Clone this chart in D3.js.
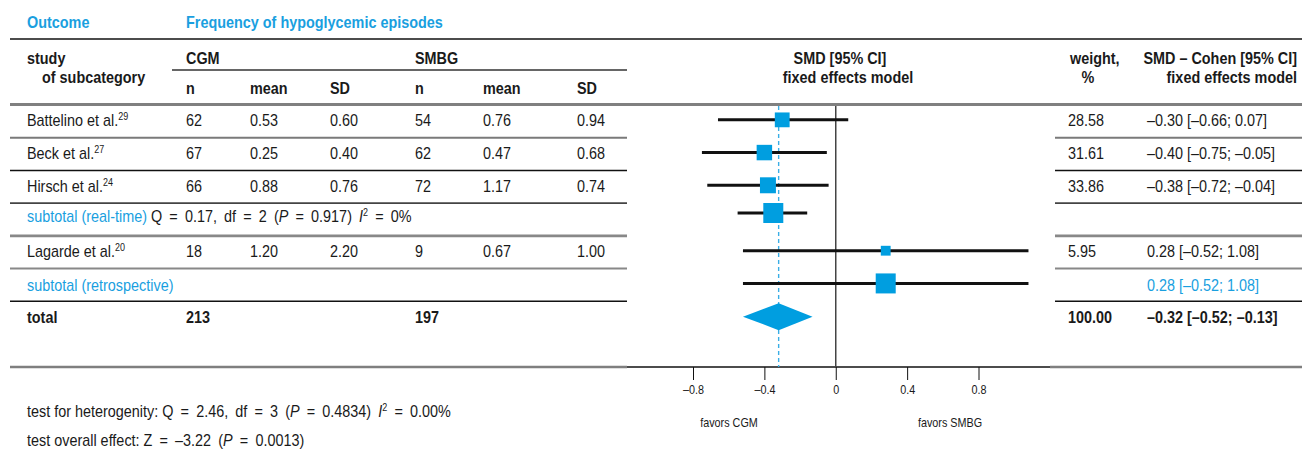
<!DOCTYPE html>
<html>
<head>
<meta charset="utf-8">
<script src="https://cdn.jsdelivr.net/npm/d3@7"></script>
<style>
    body { margin: 0; background: #fff; }
    svg text { font-family: "Liberation Sans", Arial, sans-serif; font-size: 16px; fill: #1a1a1a; }
    svg text.b { font-weight: bold; }
    svg .blue { fill: #1a9fdf; }
    svg .math { word-spacing: 3.5px; }
    .tick text { font-size: 12px; }
</style>
</head>
<body>
<svg width="1302" height="451"></svg>
<script>
// study rows
var studies = ["Battelino et al.", "Beck et al.", "Hirsch et al.", "Lagarde et al."];
var refs = ["29", "27", "24", "20"];
var cgmN = [62, 67, 66, 18];
var cgmMean = ["0.53", "0.25", "0.88", "1.20"];
var cgmSD = ["0.60", "0.40", "0.76", "2.20"];
var smbgN = [54, 62, 72, 9];
var smbgMean = ["0.76", "0.47", "1.17", "0.67"];
var smbgSD = ["0.94", "0.68", "0.74", "1.00"];
var weights = [28.58, 31.61, 33.86, 5.95];
var smd = [-0.30, -0.40, -0.38, 0.28];
var smdLo = [-0.66, -0.75, -0.72, -0.52];
var smdHi = [0.07, -0.05, -0.04, 1.08];

// subtotals and total
var subRealTime = [-0.35, -0.55, -0.16];
var subRetro = [0.28, -0.52, 1.08];
var total = [-0.32, -0.52, -0.13];
var totalN = [213, 197];
var totalWeight = "100.00";

var ticks = [-0.8, -0.4, 0, 0.4, 0.8];

var svg = d3.select("svg");
var blue = "#009ee0";

function dash(v, digits) {
    return d3.format("." + digits + "f")(v).replace("−", "–").replace("-", "–");
}
function ciText(a) {
    return dash(a[0], 2) + " [" + dash(a[1], 2) + "; " + dash(a[2], 2) + "]";
}

// condensed look: squeeze every label a bit horizontally
function label(x, y, cls, anchor) {
    return svg.append("text")
        .attr("transform", "translate(" + x + "," + y + ") scale(0.9,1)")
        .attr("dy", "0.35em")
        .attr("class", cls || null)
        .attr("text-anchor", anchor || "start");
}
function sup(t, s) {
    t.append("tspan").attr("dy", -6).style("font-size", "10px").text(s);
}
function math(t, s, cls) {
    return t.append("tspan").attr("class", "math" + (cls ? " " + cls : "")).text(s);
}

// rows: 0-2 real-time studies, 3 subtotal, 4 Lagarde, 5 subtotal, 6 total
var rowIdx = [0, 1, 2, null, 3, null, null];
var y = d3.scaleBand().domain(d3.range(7)).range([105, 334]);
function cy(i) { return y(i) + y.bandwidth() / 2 - 1.5; }

var x = d3.scaleLinear().domain([-0.8, 0.8]).range([693, 978.5]);
var boxSize = d3.scaleLinear().domain([0, 34]).range([8.5, 16]);

var colX = [186, 250, 330, 415, 483, 577];

// ---- lines
function hline(x1, x2, yy, color, w) {
    svg.append("line").attr("x1", x1).attr("x2", x2).attr("y1", yy).attr("y2", yy)
        .attr("stroke", color).attr("stroke-width", w);
}
hline(10, 1302, 39, "#111", 1.5);
hline(172, 627, 70, "#333", 1.3);
hline(10, 1302, 104.5, "#808080", 3);
var sepColors = ["#7a7a7a", "#111", "#444", "#888", "#888", "#111"];
var sepWidth = [2, 1.5, 1.8, 2.6, 2, 1.5];
sepColors.forEach(function (c, i) {
    var yy = y(i + 1);
    hline(10, 627, yy, c, sepWidth[i]);
    hline(1055, 1302, yy, c, sepWidth[i]);
});
hline(10, 627, 367, "#7f7f7f", 2.5);
hline(1050, 1302, 367, "#7f7f7f", 2.5);
hline(627, 1050, 367, "#111", 1.5);

// ---- header text
label(27, 22, "b blue").text("Outcome");
label(186, 22, "b blue").text("Frequency of hypoglycemic episodes");
label(27, 58, "b").text("study");
label(42, 77, "b").text("of subcategory");
label(colX[0], 58, "b").text("CGM");
label(colX[3], 58, "b").text("SMBG");
["n", "mean", "SD", "n", "mean", "SD"].forEach(function (d, i) {
    label(colX[i], 88, "b").text(d);
});
label(840, 58, "b", "middle").text("SMD [95% CI]");
label(848, 77, "b", "middle").text("fixed effects model");
label(1070, 58, "b").text("weight,");
label(1088, 77, "b", "middle").text("%");
label(1297, 58, "b", "end").text("SMD – Cohen [95% CI]");
label(1297, 77, "b", "end").text("fixed effects model");

// ---- study rows text
rowIdx.forEach(function (k, r) {
    if (k === null) return;
    var ty = cy(r) + 1;
    var t = label(27, ty);
    t.append("tspan").text(studies[k]);
    sup(t, refs[k]);
    var vals = [cgmN[k], cgmMean[k], cgmSD[k], smbgN[k], smbgMean[k], smbgSD[k]];
    vals.forEach(function (v, c) {
        label(colX[c], ty).text(v);
    });
    label(1068, ty).text(d3.format(".2f")(weights[k]));
    label(1147, ty).text(ciText([smd[k], smdLo[k], smdHi[k]]));
});

// subtotal (real-time)
var st = label(27, cy(3) - 2);
st.append("tspan").attr("class", "blue").text("subtotal (real-time) ");
math(st, "Q = 0.17, df = 2 (");
math(st, "P").style("font-style", "italic");
math(st, " = 0.917) ");
math(st, "I").style("font-style", "italic");
sup(st, "2");
math(st, " = 0%").attr("dy", 6);

// subtotal (retrospective)
label(27, cy(5) + 1.5, "blue").text("subtotal (retrospective)");
label(1147, cy(5) + 1.5, "blue").text(ciText(subRetro));

// total
label(27, cy(6) + 1.5, "b").text("total");
label(colX[0], cy(6) + 1.5, "b").text(totalN[0]);
label(colX[3], cy(6) + 1.5, "b").text(totalN[1]);
label(1068, cy(6) + 1.5, "b").text(totalWeight);
label(1147, cy(6) + 1.5, "b").text(ciText(total));

// ---- plot
svg.append("line")
    .attr("x1", x(total[0])).attr("x2", x(total[0]))
    .attr("y1", 106).attr("y2", 367)
    .attr("stroke", "#3aaee6").attr("stroke-width", 1.4).attr("stroke-dasharray", "4,3");
svg.append("line")
    .attr("x1", x(0)).attr("x2", x(0))
    .attr("y1", 106).attr("y2", 367)
    .attr("stroke", "#444").attr("stroke-width", 1.5);

var marks = [];
rowIdx.forEach(function (k, r) {
    if (k !== null) marks.push({ r: r, est: smd[k], lo: smdLo[k], hi: smdHi[k], size: boxSize(weights[k]) });
});
marks.push({ r: 3, est: subRealTime[0], lo: subRealTime[1], hi: subRealTime[2], size: 20, dy: -5 });
marks.push({ r: 5, est: subRetro[0], lo: subRetro[1], hi: subRetro[2], size: 20, dy: 0 });

svg.append("g").selectAll("line")
    .data(marks)
  .enter().append("line")
    .attr("x1", function (d) { return x(d.lo); })
    .attr("x2", function (d) { return x(d.hi); })
    .attr("y1", function (d) { return cy(d.r) + (d.dy || 0); })
    .attr("y2", function (d) { return cy(d.r) + (d.dy || 0); })
    .attr("stroke", "#111").attr("stroke-width", 3);

svg.append("g").selectAll("rect")
    .data(marks)
  .enter().append("rect")
    .attr("x", function (d) { return x(d.est) - d.size / 2; })
    .attr("y", function (d) { return cy(d.r) + (d.dy || 0) - d.size / 2; })
    .attr("width", function (d) { return d.size; })
    .attr("height", function (d) { return d.size; })
    .attr("fill", blue);

var dY = cy(6) + 0.5;
svg.append("path")
    .attr("d", "M" + x(total[1]) + "," + dY + "L" + x(total[0]) + "," + (dY - 13.5) +
        "L" + x(total[2]) + "," + dY + "L" + x(total[0]) + "," + (dY + 13.5) + "Z")
    .attr("fill", blue);

// axis
var axis = svg.append("g")
    .attr("transform", "translate(0,367)")
    .call(d3.axisBottom(x).tickValues(ticks).tickSize(13).tickPadding(5)
        .tickFormat(function (d) { return d === 0 ? "0" : dash(d, 1); }));
axis.select(".domain").remove();
axis.selectAll(".tick line").attr("stroke", "#111");
axis.selectAll(".tick text").attr("fill", "#1a1a1a").attr("transform", "scale(0.9,1)")
    .attr("x", 0);

label(729, 423, null, "middle").style("font-size", "12px").text("favors CGM");
label(950, 423, null, "middle").style("font-size", "12px").text("favors SMBG");

// ---- footer
var f1 = label(27, 411);
f1.append("tspan").text("test for heterogenity: ");
math(f1, "Q = 2.46, df = 3 (");
math(f1, "P").style("font-style", "italic");
math(f1, " = 0.4834) ");
math(f1, "I").style("font-style", "italic");
sup(f1, "2");
math(f1, " = 0.00%").attr("dy", 6);

var f2 = label(27, 440);
f2.append("tspan").text("test overall effect: ");
math(f2, "Z = –3.22 (");
math(f2, "P").style("font-style", "italic");
math(f2, " = 0.0013)");
</script>
</body>
</html>
